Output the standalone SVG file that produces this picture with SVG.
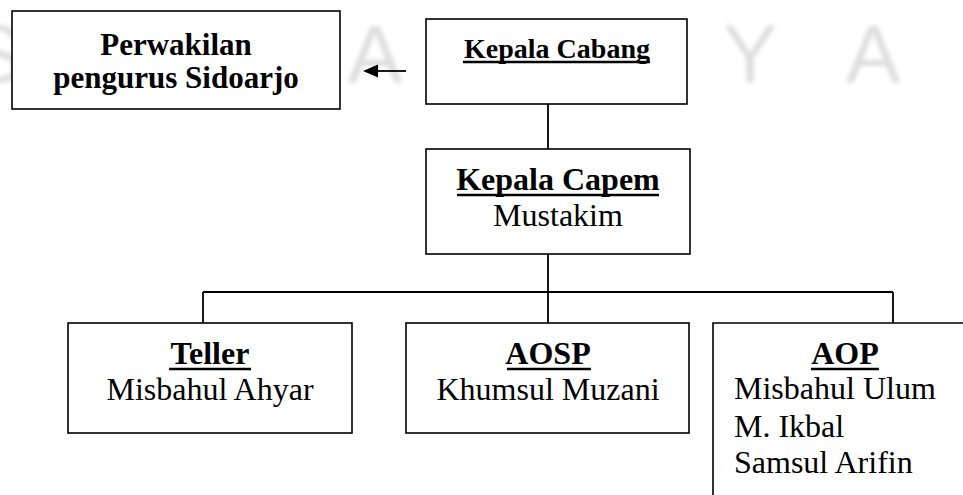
<svg xmlns="http://www.w3.org/2000/svg" width="963" height="495" viewBox="0 0 963 495">
<defs>
<style>
.box{fill:#fff;stroke:#000;stroke-width:1.6}
.ln{stroke:#000;stroke-width:1.8;fill:none}
.ul{stroke:#000;stroke-width:2.6}
.t{font-family:"Liberation Serif","Times New Roman",serif;font-size:32px;fill:#000;text-anchor:middle}
.b{font-weight:bold}
.p{font-size:31px}
.c{font-size:28px}
.l{text-anchor:start}
.wm{font-family:"Liberation Sans",Arial,sans-serif;font-size:82px;fill:#dedede;text-anchor:middle;filter:url(#blur)}
</style>
<filter id="blur" x="-20%" y="-20%" width="140%" height="140%"><feGaussianBlur stdDeviation="2"/></filter>
</defs>
<rect width="963" height="495" fill="#fff"/>
<g id="watermark">
<text class="wm" x="-4" y="82">S</text>
<text class="wm" x="375" y="82">A</text>
<text class="wm" x="750" y="82">Y</text>
<text class="wm" x="873" y="82">A</text>
</g>
<g id="connectors">
<line class="ln" x1="548" y1="104" x2="548" y2="149"/>
<line class="ln" x1="548" y1="254" x2="548" y2="323"/>
<line class="ln" x1="203" y1="292" x2="893" y2="292"/>
<line class="ln" x1="203" y1="292" x2="203" y2="323"/>
<line class="ln" x1="893" y1="292" x2="893" y2="323"/>
<line class="ln" x1="406" y1="71" x2="378" y2="71"/>
<path d="M363,71 L378,64.5 L378,77.5 Z" fill="#000"/>
</g>
<g id="perwakilan">
<rect class="box" x="12" y="11" width="328" height="98"/>
<text class="t b p" x="176" y="55">Perwakilan</text>
<text class="t b p" x="176" y="88">pengurus Sidoarjo</text>
</g>
<g id="kepala-cabang">
<rect class="box" x="426" y="19" width="261" height="85"/>
<text class="t b c" x="557" y="58">Kepala Cabang</text>
<line class="ul" x1="463" y1="62" x2="650" y2="62"/>
</g>
<g id="kepala-capem">
<rect class="box" x="426" y="149" width="264" height="105"/>
<text class="t b" x="558" y="190">Kepala Capem</text>
<line class="ul" x1="457" y1="195" x2="659" y2="195"/>
<text class="t" x="558" y="226">Mustakim</text>
</g>
<g id="teller">
<rect class="box" x="68" y="323" width="284" height="110"/>
<text class="t b" x="210" y="364">Teller</text>
<line class="ul" x1="169" y1="369" x2="251" y2="369"/>
<text class="t" x="210" y="400">Misbahul Ahyar</text>
</g>
<g id="aosp">
<rect class="box" x="406" y="323" width="283" height="110"/>
<text class="t b" x="548" y="364">AOSP</text>
<line class="ul" x1="507" y1="369" x2="591" y2="369"/>
<text class="t" x="548" y="400">Khumsul Muzani</text>
</g>
<g id="aop">
<path class="box" d="M713,495 L713,323 L965,323" fill="#fff"/>
<text class="t b" x="845" y="364">AOP</text>
<line class="ul" x1="811" y1="369" x2="879" y2="369"/>
<text class="t l" x="734" y="399">Misbahul Ulum</text>
<text class="t l" x="734" y="437">M. Ikbal</text>
<text class="t l" x="734" y="473">Samsul Arifin</text>
</g>
</svg>
